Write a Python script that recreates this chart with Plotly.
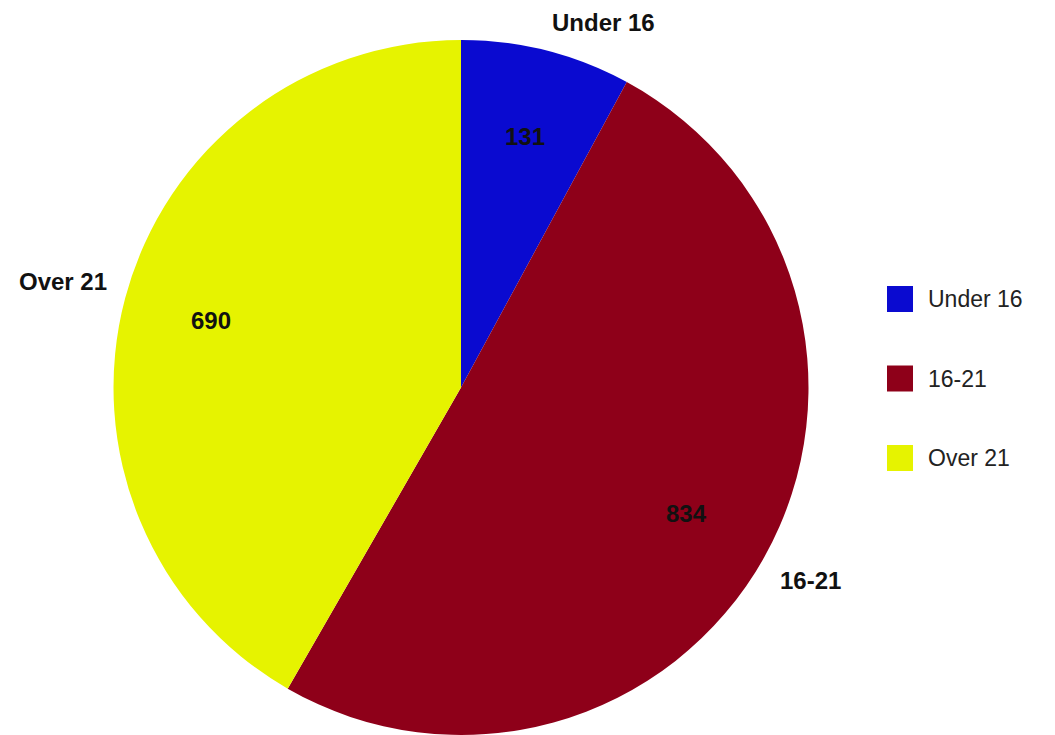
import math
import plotly.graph_objects as go

# ---- data ----
categories = ["Under 16", "16-21", "Over 21"]
values = [131, 834, 690]
colors = ["#0A0AD0", "#8E0019", "#E6F300"]

# ---- layout constants (page body adds an 8px offset) ----
OFF = 8
W, H = 1055, 735
R = 347.5
M_T, M_L, M_R = 40 - OFF, 0, 0
M_B = H - M_T - 2 * R
PLOT_H = H - M_T - M_B
PLOT_W = W - M_L - M_R
CX, CY = 461.0 - OFF, M_T + R
FONT = "Liberation Sans, Arial, sans-serif"


def px_to_paper(px, py):
    return (px - M_L) / PLOT_W, 1 - (py - M_T) / PLOT_H


fig = go.Figure()
fig.add_trace(go.Pie(
    labels=categories,
    values=values,
    marker=dict(colors=colors, line=dict(width=0)),
    sort=False,
    direction="clockwise",
    rotation=0,
    textinfo="none",
    hoverinfo="label+value",
    showlegend=False,
    domain=dict(x=[(CX - R - M_L) / PLOT_W, (CX + R - M_L) / PLOT_W], y=[0, 1]),
))

annotations = []
shapes = []
total = float(sum(values))
cum = 0.0
for cat, v in zip(categories, values):
    mid = (cum + v / 2.0) / total * 2 * math.pi
    cum += v
    s, c = math.sin(mid), math.cos(mid)
    # value label inside
    ix, iy = px_to_paper(CX + 0.745 * R * s, CY - 0.745 * R * c)
    annotations.append(dict(x=ix, y=iy, xref="paper", yref="paper", text=f"<b>{v}</b>",
                            showarrow=False, font=dict(family=FONT, size=24, color="#111111"),
                            xanchor="center", yanchor="middle"))
    # category label outside
    k = 1.05
    ox, oy = px_to_paper(CX + k * R * s, CY - k * R * c)
    annotations.append(dict(x=ox, y=oy, xref="paper", yref="paper", text=f"<b>{cat}</b>",
                            showarrow=False, font=dict(family=FONT, size=24, color="#111111"),
                            borderpad=0,
                            xanchor="left" if s >= 0 else "right",
                            yanchor="bottom" if c > 0 else "top",
                            yshift=-3 if c > 0 else 0))

# custom legend
LEG_X, LEG_Y0, LEG_DY, SQ = 887 - OFF, 299 - OFF, 79.5, 26
for i, (cat, col) in enumerate(zip(categories, colors)):
    yc = LEG_Y0 + i * LEG_DY
    x0, y0 = px_to_paper(LEG_X, yc - SQ / 2)
    x1, y1 = px_to_paper(LEG_X + SQ, yc + SQ / 2)
    shapes.append(dict(type="rect", xref="paper", yref="paper", x0=x0, x1=x1, y0=y0, y1=y1,
                       fillcolor=col, line=dict(width=0)))
    tx, ty = px_to_paper(LEG_X + SQ + 13, yc)
    annotations.append(dict(x=tx, y=ty, xref="paper", yref="paper", text=cat, showarrow=False,
                            font=dict(family=FONT, size=23, color="#222222"),
                            xanchor="left", yanchor="middle"))

fig.update_layout(
    width=W, height=H,
    margin=dict(t=M_T, b=M_B, l=M_L, r=M_R),
    paper_bgcolor="white", plot_bgcolor="white",
    annotations=annotations, shapes=shapes,
    showlegend=False,
)

fig.write_html("out.html")
